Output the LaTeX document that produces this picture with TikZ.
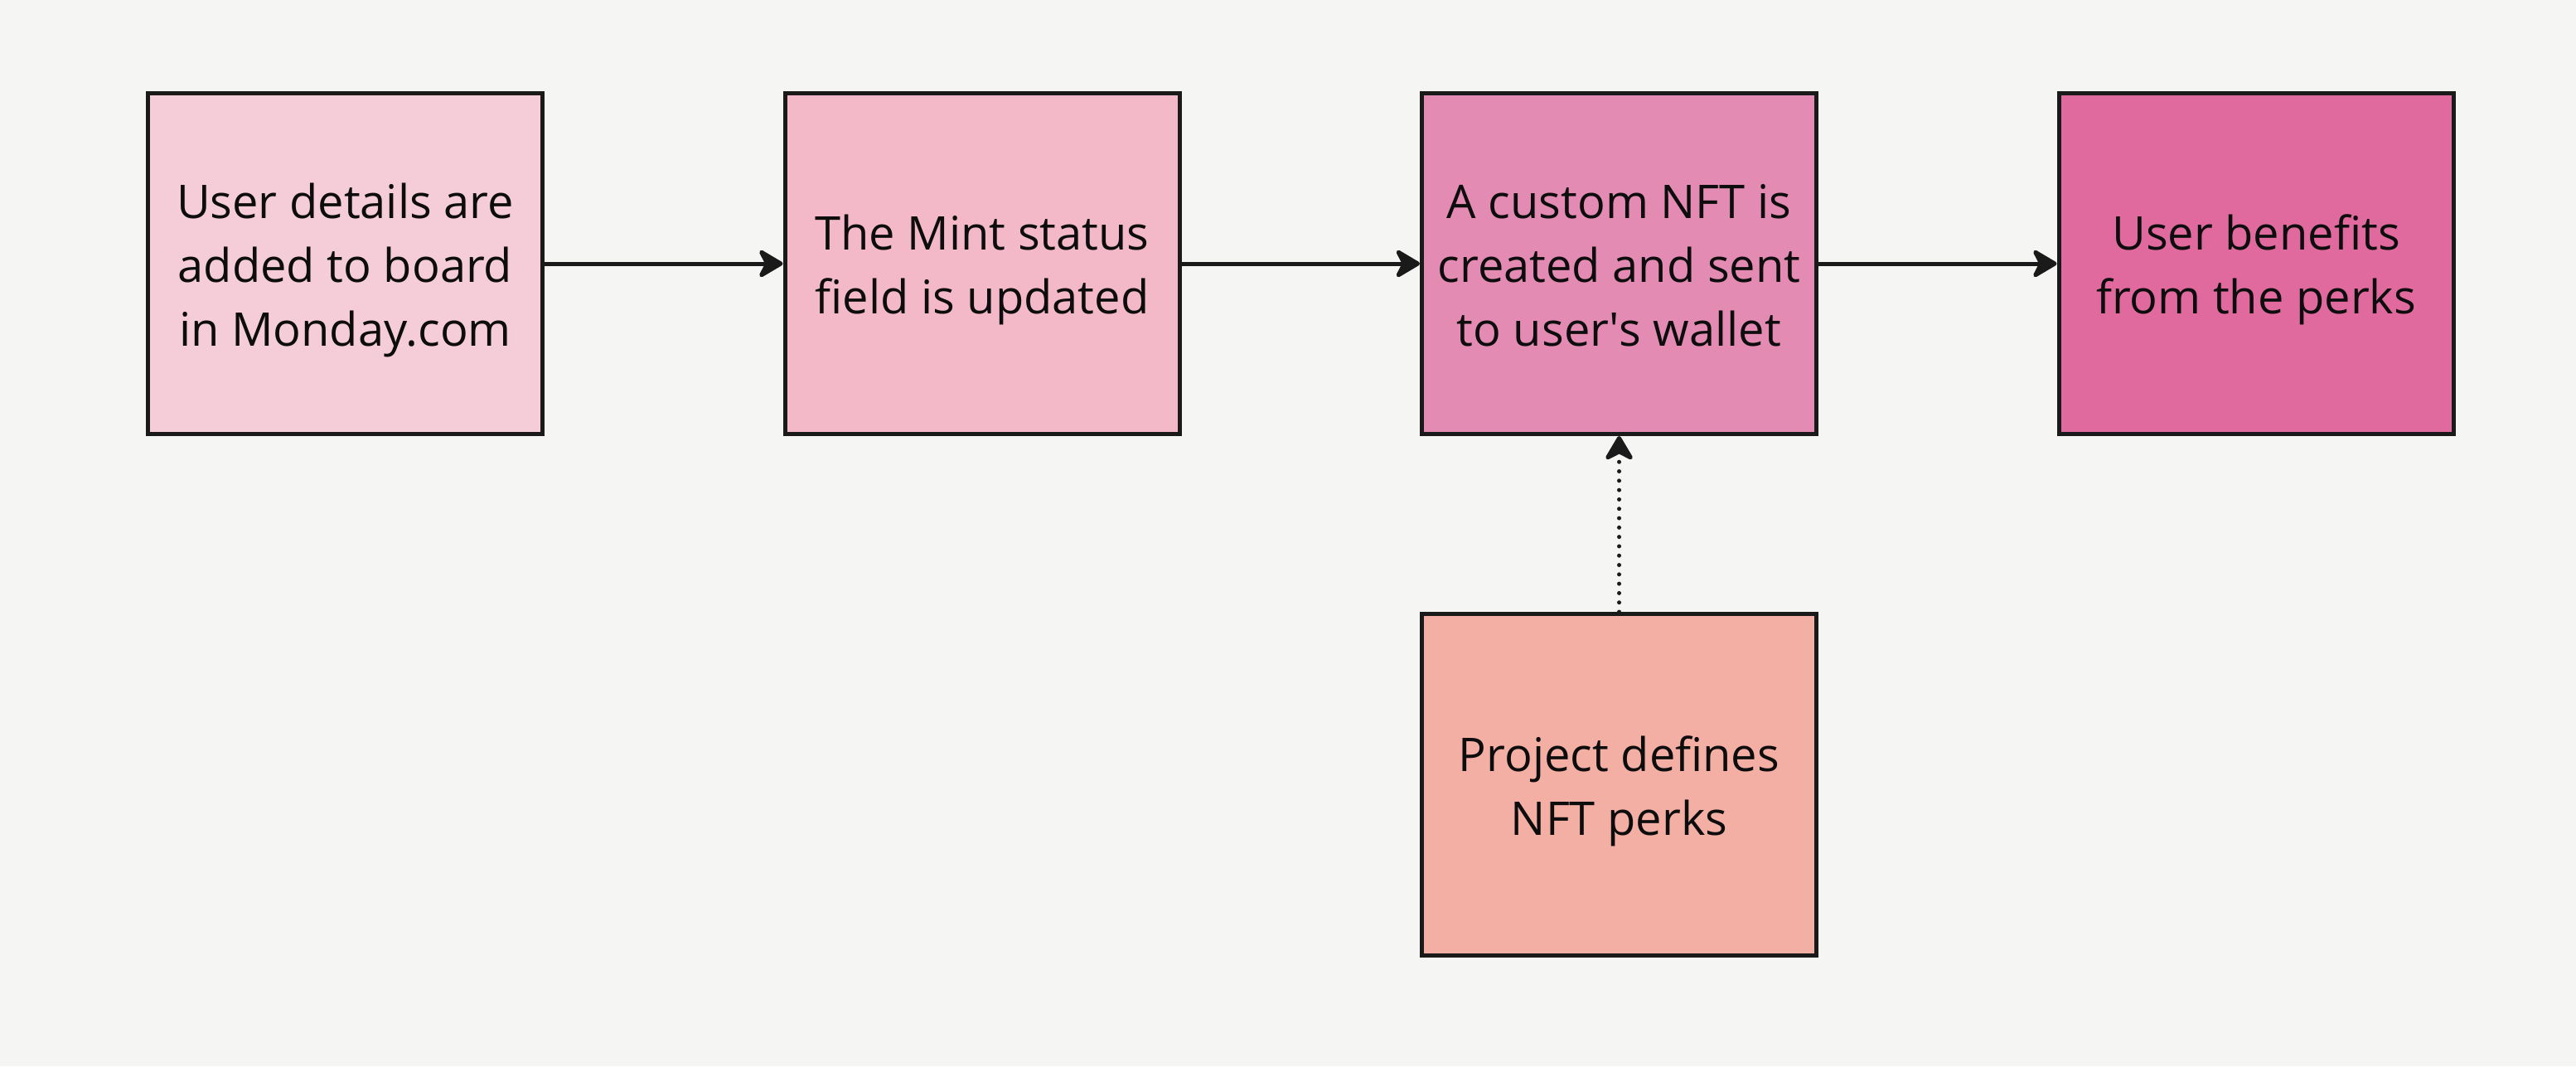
\documentclass[tikz,border=0pt]{standalone}
\usepackage{fontspec}
\setmainfont{Open Sans}
\usetikzlibrary{arrows.meta}
\definecolor{bgc}{HTML}{F5F5F3}
\definecolor{ink}{HTML}{1A1A1A}
\definecolor{cA}{HTML}{F5CDD9}
\definecolor{cB}{HTML}{F4B9C9}
\definecolor{cC}{HTML}{E48BB3}
\definecolor{cD}{HTML}{E06A9E}
\definecolor{cE}{HTML}{F4AFA4}
\newcommand\boxtext[1]{\raisebox{-3.5pt}[\height][\depth]{\begin{tabular}{@{}c@{}}#1\end{tabular}}}
\newcommand\straightquote{\XeTeXglyph\XeTeXglyphindex "quotesingle"\relax}
\tikzset{
  stepbox/.style={draw=ink, line width=2.5pt, minimum width=238pt, minimum height=205.5pt,
    align=center, inner sep=0pt, font=\fontsize{28pt}{38.5pt}\selectfont, text=black!95},
  flow/.style={draw=ink, line width=2.5pt, -{Stealth[length=17pt,width=20pt,inset=5pt,round]}},
  dotflow/.style={draw=ink, line width=2.5pt, line cap=round, dash pattern=on 0pt off 5.65pt,
    -{Stealth[length=17pt,width=20pt,inset=5pt,round]}}
}
\begin{document}
\begin{tikzpicture}[x=1pt,y=1pt]
\fill[bgc] (0,0) rectangle (1554,-643);
\useasboundingbox (0,0) rectangle (1554,-643);
\node[stepbox, fill=cA] (a) at (208.25,-159) {\boxtext{User details are\\added to board\\in Monday.com}};
\node[stepbox, fill=cB] (b) at (592.5,-159) {\boxtext{The Mint status\\field is updated}};
\node[stepbox, fill=cC] (c) at (976.75,-159) {\boxtext{A custom NFT is\\created and sent\\to user\straightquote s wallet}};
\node[stepbox, fill=cD] (d) at (1361,-159) {\boxtext{User benefits\\from the perks}};
\node[stepbox, fill=cE, minimum height=206pt] (e) at (976.75,-473.25) {\boxtext{Project defines\\NFT perks}};
\draw[flow] (a) -- (b);
\draw[flow] (b) -- (c);
\draw[flow] (c) -- (d);
\draw[dotflow] (e) -- (c);
\end{tikzpicture}
\end{document}
